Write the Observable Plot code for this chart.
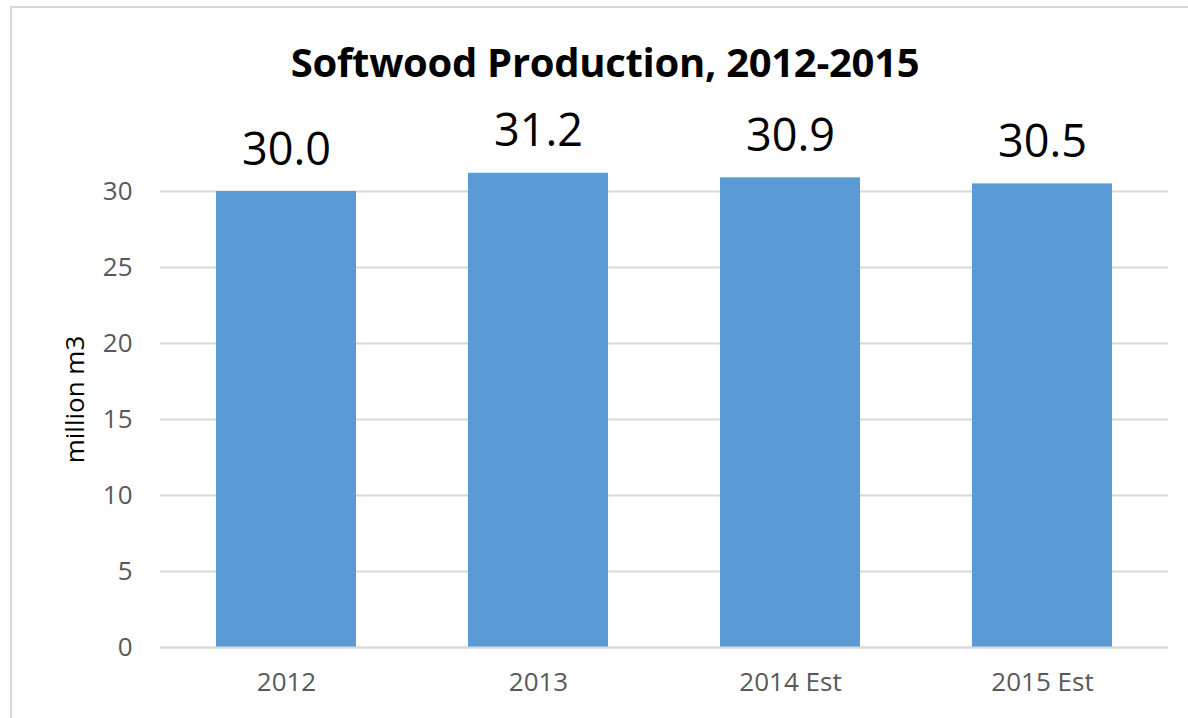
<!DOCTYPE html>
<html>
<head>
<meta charset="utf-8">
<script src="https://cdn.jsdelivr.net/npm/d3@7"></script>
<script src="https://cdn.jsdelivr.net/npm/@observablehq/plot@0.6"></script>
<style>
  html, body { margin: 0; padding: 0; background: #fff; }
  body { width: 1188px; height: 718px; position: relative; overflow: hidden; font-family: "Open Sans", sans-serif; }
  #frame { position: absolute; left: 10px; top: 6px; width: 1200px; height: 760px; border: 2px solid #d9d9d9; box-sizing: border-box; }
  #title { position: absolute; left: 0; width: 1210px; top: 42px; text-align: center; font-family: "Open Sans", sans-serif; font-weight: bold; font-size: 40px; color: #000; line-height: 1; letter-spacing: -0.3px; }
  #chart { position: absolute; left: 0; top: 0; }
</style>
</head>
<body>
<div id="frame"></div>
<div id="title">Softwood Production, 2012-2015</div>
<div id="chart"></div>
<script>
const categories = ["2012", "2013", "2014 Est", "2015 Est"];
const values = [30.0, 31.2, 30.9, 30.5];
const labels = ["30.0", "31.2", "30.9", "30.5"];
const yTicks = [0, 5, 10, 15, 20, 25, 30];

const data = categories.map((c, i) => ({category: c, value: values[i], label: labels[i]}));

const chart = Plot.plot({
  width: 1188,
  height: 718,
  marginLeft: 160,
  marginRight: 20,
  marginTop: 191,
  marginBottom: 71,
  style: {fontFamily: "Open Sans, sans-serif", background: "transparent", overflow: "visible"},
  x: {domain: categories, paddingInner: 0.444, paddingOuter: 0.222, label: null},
  y: {domain: [0, 30], label: null},
  marks: [
    Plot.gridY(yTicks, {stroke: "#d9d9d9", strokeOpacity: 1, strokeWidth: 2}),
    Plot.barY(data, {x: "category", y: "value", fill: "#5b9bd5"}),
    Plot.ruleY([0], {stroke: "#d9d9d9", strokeWidth: 2}),
    Plot.text(data, {x: "category", y: "value", text: "label", dy: -27, lineAnchor: "bottom", fontSize: 45, fill: "#000"}),
    Plot.axisY(yTicks, {tickSize: 0, tickPadding: 28, fontSize: 26, fill: "#595959", label: null}),
    Plot.axisX({tickSize: 0, tickPadding: 25, fontSize: 26, fill: "#595959", label: null}),
    Plot.text(["million m3"], {frameAnchor: "left", textAnchor: "middle", dx: -85, dy: -20, rotate: -90, fontSize: 26, fill: "#000"})
  ]
});
document.getElementById("chart").appendChild(chart);
</script>
</body>
</html>
